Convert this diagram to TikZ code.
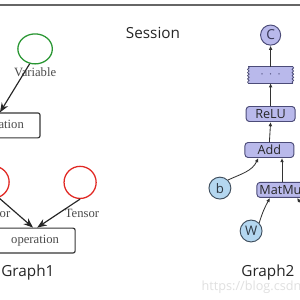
\documentclass[tikz,border=0pt]{standalone}
\usepackage{fontspec}
\setmainfont{Liberation Serif}
\setsansfont{Open Sans}
\usetikzlibrary{arrows.meta, positioning, shapes.geometric, decorations.pathmorphing}
\usepackage{xcolor}
\definecolor{varcolor}{RGB}{40,150,50}
\definecolor{tensorcolor}{RGB}{225,40,35}
\definecolor{opedge}{RGB}{55,55,55}
\definecolor{labelgray}{RGB}{75,75,75}
\definecolor{tfedge}{RGB}{75,75,120}
\definecolor{tffill}{RGB}{185,185,235}
\definecolor{tfblue}{RGB}{180,215,240}
\definecolor{tfblueedge}{RGB}{65,80,95}
\tikzset{
  title/.style      = {font=\sffamily\fontsize{14.5}{16}\selectfont, text=black!85},
  lbl/.style        = {font=\fontsize{12}{14}\selectfont, text=labelgray},
  varnode/.style    = {ellipse, draw=varcolor, line width=1.2pt,
                       minimum width=1.15cm, minimum height=1cm},
  tensornode/.style = {circle, draw=tensorcolor, line width=1.2pt, minimum size=1.07cm},
  opbox/.style      = {draw=opedge, rounded corners=2pt, line width=1.1pt, fill=white,
                       minimum width=2.67cm, minimum height=0.83cm,
                       font=\fontsize{12}{14}\selectfont, text=labelgray},
  tfop/.style       = {draw=tfedge, rounded corners=3pt, fill=tffill, line width=0.9pt,
                       minimum width=1.63cm, minimum height=0.5cm, inner sep=1pt,
                       font=\sffamily\fontsize{12}{13}\selectfont, text=black!85},
  tfdots/.style     = {fill=tffill, minimum width=1.47cm, minimum height=0.53cm,
                       inner sep=0pt, text=tfedge},
  tfout/.style      = {circle, draw=tfedge, fill=tffill, line width=0.9pt,
                       minimum size=0.67cm, inner sep=0pt,
                       font=\sffamily\fontsize{13}{14}\selectfont, text=tfedge!70!black},
  tfin/.style       = {circle, draw=tfblueedge, fill=tfblue, line width=0.9pt,
                       minimum size=0.73cm, inner sep=0pt,
                       font=\sffamily\fontsize{12.5}{14}\selectfont, text=tfblueedge!70!black},
}

\begin{document}
\begin{tikzpicture}[
    garrow/.style={-{Stealth[length=9pt,width=7pt]}, line width=1.1pt, color=black!85},
    tfarrow/.style={-{Latex[length=4pt,width=3.5pt]}, line width=0.8pt, color=black!80},
    torn/.style={draw=tfedge, line width=0.8pt, decorate,
                 decoration={snake, amplitude=0.7pt, segment length=3pt}}
]
\useasboundingbox (0,0) rectangle (10,10);
\fill[white] (0,0) rectangle (10,10);
\draw[black!60, line width=1.2pt] (0,9.83) -- (10,9.83);

\node[title] (session) at (5.1,8.9) {Session};

% Graph1
\node[varnode] (var) at (1.17,8.37) {};
\node[lbl] (varlbl) at (1.17,7.6) {Variable};
\node[opbox] (op1) at (0,5.82) {operation};

\node[tensornode] (t1) at (-0.23,3.93) {};
\node[tensornode] (t2) at (2.67,3.92) {};
\node[lbl] (t1lbl) at (-0.23,2.9) {Tensor};
\node[lbl] (t2lbl) at (2.73,2.9) {Tensor};
\node[opbox] (op2) at (1.17,1.98) {operation};

\node[title] (g1) at (0.93,0.93) {Graph1};

\draw[garrow] (var.-110) -- (op1.north);
\draw[garrow] (t1.-70) -- ([xshift=-2pt]op2.north);
\draw[garrow] (t2.south) -- ([xshift=2pt]op2.north);

% Graph2
\node[tfout] (c) at (9.02,8.83) {C};
\node[tfdots] (dots) at (9.02,7.5) {\large$\cdot\,\cdot\,\cdot$};
\draw[torn] (dots.north west) -- (dots.south west);
\draw[torn] (dots.north east) -- (dots.south east);
\draw[tfedge, line width=0.8pt] (dots.north west) -- (dots.north east)
                                (dots.south west) -- (dots.south east);
\node[tfop] (relu) at (9.02,6.2) {ReLU};
\node[tfop] (add) at (8.98,5.0) {Add};
\node[tfop, minimum width=1.67cm] (mm) at (9.4,3.67) {MatMul};
\node[tfin] (b) at (7.33,3.73) {b};
\node[tfin] (w) at (8.37,2.3) {W};
\coordinate (xin) at (10.6,2.4);

\node[title] (g2) at (8.93,0.9) {Graph2};

\draw[tfarrow] (add.north) -- (relu.south);
\draw[tfarrow] (relu.north) -- (dots.south);
\draw[tfarrow] (dots.north) -- (c.south);
\draw[tfarrow] (mm.north) -- (mm.north |- add.south);
\draw[tfarrow] (b.north east) to[out=25, in=-115] ([xshift=-0.37cm]add.south);
\draw[tfarrow] (w.north east) to[bend left=6] ([xshift=-0.4cm]mm.south);
\draw[tfarrow] (xin) -- ([xshift=0.5cm]mm.south);

\node[anchor=west, font=\sffamily\fontsize{12}{14}\selectfont, text=black!12]
  (mark) at (6.6,0.43) {https://blog.csdn.net};
\end{tikzpicture}
\end{document}
